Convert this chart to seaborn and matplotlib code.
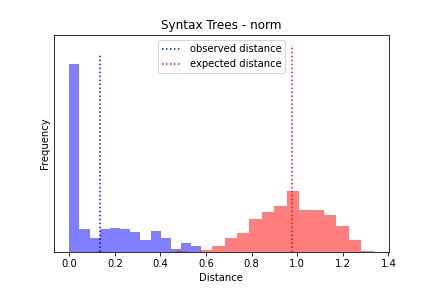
import numpy as np
import pandas as pd
import matplotlib
matplotlib.use("Agg")
import matplotlib.pyplot as plt
import seaborn as sns

# Histogram bin counts (arbitrary frequency units)
observed_counts = [188, 23, 14, 23, 24, 23, 20, 12, 21, 14, 3, 9, 6]
observed_range = (0.0, 0.58)
expected_counts = [1.3, 0, 2, 6, 14, 19, 33, 40, 46, 61, 42, 42, 37, 26, 12, 1.3]
expected_range = (0.463, 1.3346)

observed_distance = 0.136
observed_line_top = 197
expected_distance = 0.978
expected_line_top = 207

title = "Syntax Trees - norm"

fig = plt.figure(figsize=(6, 4), dpi=72)
ax = fig.add_axes([0.125, 0.125, 0.775, 0.753])

def draw(counts, rng, color):
    n = len(counts)
    width = (rng[1] - rng[0]) / n
    centers = rng[0] + width * (np.arange(n) + 0.5)
    df = pd.DataFrame({"x": centers, "w": np.asarray(counts, dtype=float)})
    sns.histplot(data=df, x="x", weights="w", bins=n, binrange=rng, color=color,
                 alpha=0.5, linewidth=0, ax=ax)

draw(observed_counts, observed_range, "blue")
draw(expected_counts, expected_range, "red")

ax.vlines(observed_distance, 0, observed_line_top, colors="blue",
          linestyles=":", linewidth=1.5, label="observed distance")
ax.vlines(expected_distance, 0, expected_line_top, colors="red",
          linestyles=":", linewidth=1.5, label="expected distance")

ax.set_title(title, fontsize=12)
ax.set_xlabel("Distance", fontsize=10)
ax.set_ylabel("Frequency", fontsize=10)
ax.set_yticks([])
ax.set_xticks([0.0, 0.2, 0.4, 0.6, 0.8, 1.0, 1.2, 1.4])
ax.tick_params(labelsize=10)
ax.legend(loc="upper center", fontsize=10)

fig.savefig("out.png", dpi=72)
